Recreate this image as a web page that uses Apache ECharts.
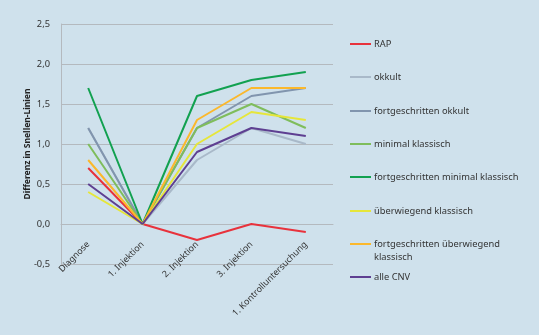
<!DOCTYPE html>
<html>
<head>
  <meta charset="UTF-8">
  <title>Differenz in Snellen-Linien</title>
  <script src="https://cdn.jsdelivr.net/npm/echarts@6/dist/echarts.min.js"></script>
  <style>
    html, body { margin: 0; padding: 0; background: #cfe1ec; }
    #main { width: 539px; height: 335px; }
  </style>
</head>
<body>
<div id="main"></div>
<script>
  var categories = ['Diagnose', '1. Injektion', '2. Injektion', '3. Injektion', '1. Kontrolluntersuchung'];
  var yTicks = [-0.5, 0, 0.5, 1.0, 1.5, 2.0, 2.5];

  var seriesNames = ['RAP', 'okkult', 'fortgeschritten okkult', 'minimal klassisch',
    'fortgeschritten minimal klassisch', 'überwiegend klassisch',
    'fortgeschritten überwiegend klassisch', 'alle CNV'];

  var rap = [0.7, 0, -0.2, 0, -0.1];
  var okkult = [1.2, 0, 0.8, 1.2, 1.0];
  var fortOkkult = [1.2, 0, 1.2, 1.6, 1.7];
  var minKlassisch = [1.0, 0, 1.2, 1.5, 1.2];
  var fortMinKlassisch = [1.7, 0, 1.6, 1.8, 1.9];
  var uebKlassisch = [0.4, 0, 1.0, 1.4, 1.3];
  var fortUebKlassisch = [0.8, 0, 1.3, 1.7, 1.7];
  var alleCNV = [0.5, 0, 0.9, 1.2, 1.1];

  var values = [rap, okkult, fortOkkult, minKlassisch, fortMinKlassisch, uebKlassisch, fortUebKlassisch, alleCNV];
  var colors = ['#e8323c', '#a9b9c9', '#8195ae', '#7fbd5c', '#12a150', '#e6e63a', '#fbb82c', '#5e3f91'];

  var font = 'Noto Sans';

  var series = seriesNames.map(function (name, i) {
    return {
      name: name,
      type: 'line',
      data: values[i],
      symbol: 'none',
      lineStyle: { width: 2, color: colors[i] },
      itemStyle: { color: colors[i] },
      z: 2 + i
    };
  });

  // Legenden einzeln platzieren (zweizeiliger Eintrag)
  var legendCenters = [44, 77, 111, 144, 177, 211, 244, 277];
  var legends = seriesNames.map(function (name, i) {
    var twoLine = name === 'fortgeschritten überwiegend klassisch';
    return {
      data: [name],
      left: 350,
      top: twoLine ? legendCenters[i] - 19.5 : legendCenters[i] - 6.5,
      padding: 0,
      icon: 'rect',
      itemWidth: 21,
      itemHeight: 2,
      selectedMode: false,
      formatter: function (n) {
        if (n === 'fortgeschritten überwiegend klassisch') {
          return '\nfortgeschritten überwiegend\nklassisch';
        }
        return n;
      },
      textStyle: { fontFamily: font, fontSize: 9.3, color: '#333', lineHeight: 13, padding: [0, 0, 0, -2] }
    };
  });

  var chart = echarts.init(document.getElementById('main'));
  chart.setOption({
    backgroundColor: '#cfe1ec',
    animation: false,
    grid: { left: 61, top: 24, right: 206, bottom: 71, containLabel: false, outerBoundsMode: 'none' },
    legend: legends,
    xAxis: {
      type: 'category',
      data: categories,
      boundaryGap: true,
      offset: -40,
      axisLine: { show: true, onZero: false, lineStyle: { color: '#b4b9be', width: 1 } },
      axisTick: { show: false },
      axisLabel: {
        rotate: 45, margin: 19, interval: 0,
        fontFamily: font, fontSize: 8.9, color: '#333'
      }
    },
    yAxis: {
      type: 'value',
      min: yTicks[0],
      max: yTicks[yTicks.length - 1],
      interval: 0.5,
      name: 'Differenz in Snellen-Linien',
      nameLocation: 'middle',
      nameGap: 29,
      nameMoveOverlap: false,
      nameTextStyle: { fontFamily: font, fontSize: 8.5, fontWeight: 'bold', color: '#222' },
      axisLine: { show: true, lineStyle: { color: '#b4b9be', width: 1 } },
      axisTick: { show: false },
      splitLine: { lineStyle: { color: '#b4b9be', width: 1 } },
      axisLabel: {
        margin: 11,
        fontFamily: font, fontSize: 9.3, color: '#333',
        formatter: function (v) { return v.toFixed(1).replace('.', ','); }
      }
    },
    series: series
  });
</script>
</body>
</html>
